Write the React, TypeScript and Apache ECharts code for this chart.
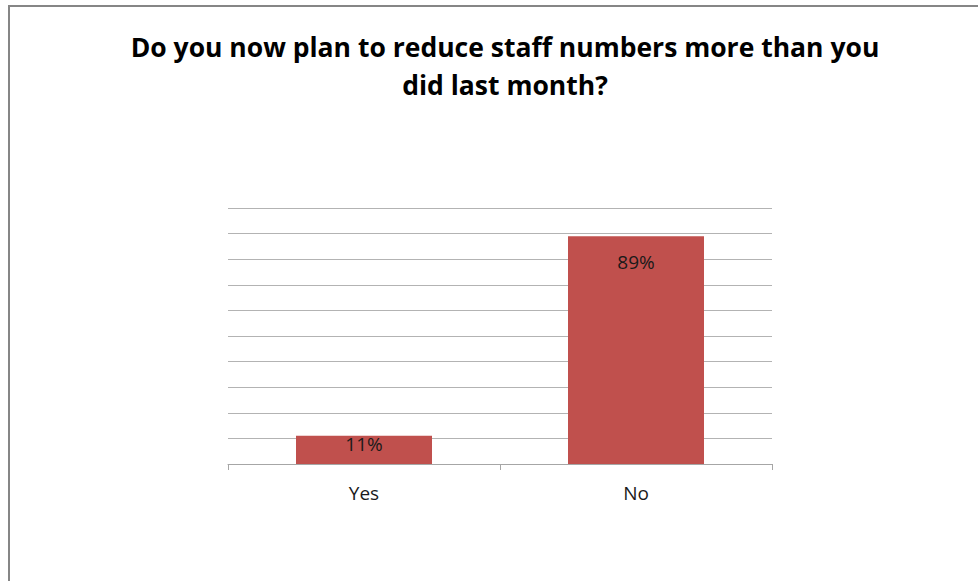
import React, { useEffect, useRef } from "react";
import * as echarts from "echarts";

const categories = ["Yes", "No"];
const values = [11, 89];
const valueLabels = ["11%", "89%"];
const labelOffsets = [-1, 16];
const yTicks = [0, 10, 20, 30, 40, 50, 60, 70, 80, 90, 100];

export default function App() {
  const ref = useRef<HTMLDivElement>(null);
  useEffect(() => {
    if (!ref.current) return;
    const chart = echarts.init(ref.current, undefined, { renderer: "svg" });
    chart.setOption({
      animation: false,
      backgroundColor: "#ffffff",
      title: {
        text: "Do you now plan to reduce staff numbers more than you\ndid last month?",
        left: 500,
        top: 23,
        textAlign: "center",
        textStyle: {
          fontFamily: "Open Sans",
          fontWeight: "bold",
          fontSize: 26.5,
          lineHeight: 38,
          color: "#000000",
        },
      },
      graphic: [
        {
          type: "rect",
          shape: { x: 9, y: 6, width: 1000, height: 1000 },
          style: { fill: "none", stroke: "#868686", lineWidth: 2 },
          silent: true,
        },
      ],
      grid: { left: 228, right: 206, top: 208, height: 256 },
      xAxis: {
        type: "category",
        data: categories,
        axisLine: { lineStyle: { color: "#a6a6a6", width: 1 } },
        axisTick: { show: true, length: 6, lineStyle: { color: "#a6a6a6" } },
        axisLabel: {
          fontFamily: "Open Sans",
          fontSize: 19,
          color: "#1a1a1a",
          margin: 19,
        },
      },
      yAxis: {
        type: "value",
        min: yTicks[0],
        max: yTicks[yTicks.length - 1],
        interval: 10,
        axisLine: { show: false },
        axisTick: { show: false },
        axisLabel: { show: false },
        splitLine: { lineStyle: { color: "#b3b3b3", width: 1 } },
      },
      series: [
        {
          type: "bar",
          barWidth: "50%",
          itemStyle: { color: "#c0504d" },
          data: values.map((v, i) => ({
            value: v,
            label: {
              show: true,
              position: "insideTop",
              distance: labelOffsets[i],
              formatter: valueLabels[i],
              fontFamily: "Open Sans",
              fontSize: 19,
              color: "#1a1a1a",
            },
          })),
        },
      ],
    });
    return () => chart.dispose();
  }, []);
  return (
    <div
      ref={ref}
      style={{ position: "absolute", left: 0, top: 0, width: 978, height: 581 }}
    />
  );
}
